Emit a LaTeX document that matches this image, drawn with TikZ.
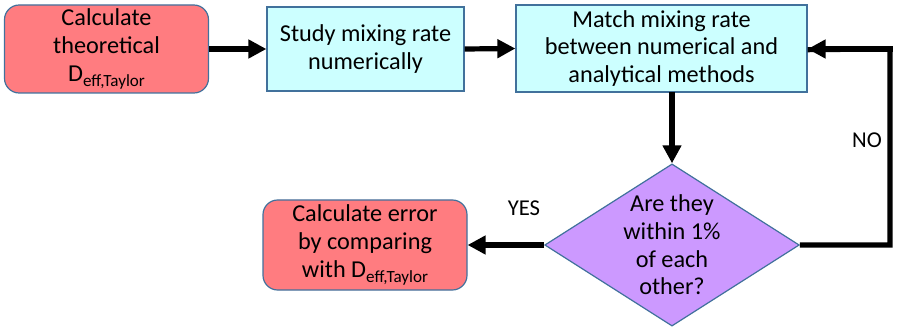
\documentclass[tikz,border=0pt]{standalone}
\usepackage{fontspec}
\setmainfont{Carlito}
\usetikzlibrary{shapes.geometric,arrows.meta}
\definecolor{redfill}{HTML}{FF7C80}
\definecolor{cyanfill}{HTML}{CCFFFF}
\definecolor{purpfill}{HTML}{CC99FF}
\definecolor{edgeblue}{HTML}{41719C}
\newcommand{\subtxt}[1]{\raisebox{-0.45ex}{\fontsize{12.8}{13}\selectfont #1}}
\tikzset{
  base/.style={draw=edgeblue, line width=0.9pt, align=center, inner sep=0pt,
    font=\fontsize{18.2}{20.8}\selectfont, text=black},
  redbox/.style={base, fill=redfill, rounded corners=11pt},
  cyanbox/.style={base, fill=cyanfill},
  decide/.style={base, fill=purpfill, diamond, aspect=1.57},
  flow/.style={line width=3.9pt, -{Triangle[length=13.5pt,width=13.5pt]}},
  lbl/.style={font=\fontsize{17}{18}\selectfont}
}
\begin{document}
\begin{tikzpicture}[x=0.75pt,y=-0.75pt]
\useasboundingbox (0,0) rectangle (901,328);
\node[redbox, minimum width=153pt, minimum height=66pt] (b1) at (106.5,49)
  {Calculate\\theoretical\\D\subtxt{eff,Taylor}};
\node[cyanbox, minimum width=147.75pt, minimum height=63pt] (b2) at (365.5,49)
  {Study mixing rate\\numerically};
\node[cyanbox, minimum width=218.25pt, minimum height=65.25pt] (b3) at (661.5,48.5)
  {Match mixing rate\\between numerical and\\analytical methods};
\node[decide, minimum width=188pt, minimum height=120pt] (d) at (672,245)
  {Are they\\within 1\%\\of each\\other?};
\node[redbox, minimum width=153pt, minimum height=67.5pt] (b4) at (365,245)
  {Calculate error\\by comparing\\with D\subtxt{eff,Taylor}};
\coordinate (c1) at (890,245);
\coordinate (c2) at (890,49);
\coordinate (b3s) at (672,92);
\draw[flow] (b1.east) -- (b2.west);
\draw[flow] (b2.east) -- (b3.west);
\draw[flow] (b3s) -- (d.north);
\draw[flow, -] (d.east) -- (c1) -- (c2) -- ([yshift=-0.5pt]c2 -| b3.east);
\draw[flow] ([xshift=1.9pt]c2) -- (c2 -| b3.east);
\draw[flow] (d.west) -- (b4.east);
\node[lbl] (yes) at (524,208) {YES};
\node[lbl] (no) at (867,140) {NO};
\end{tikzpicture}
\end{document}
